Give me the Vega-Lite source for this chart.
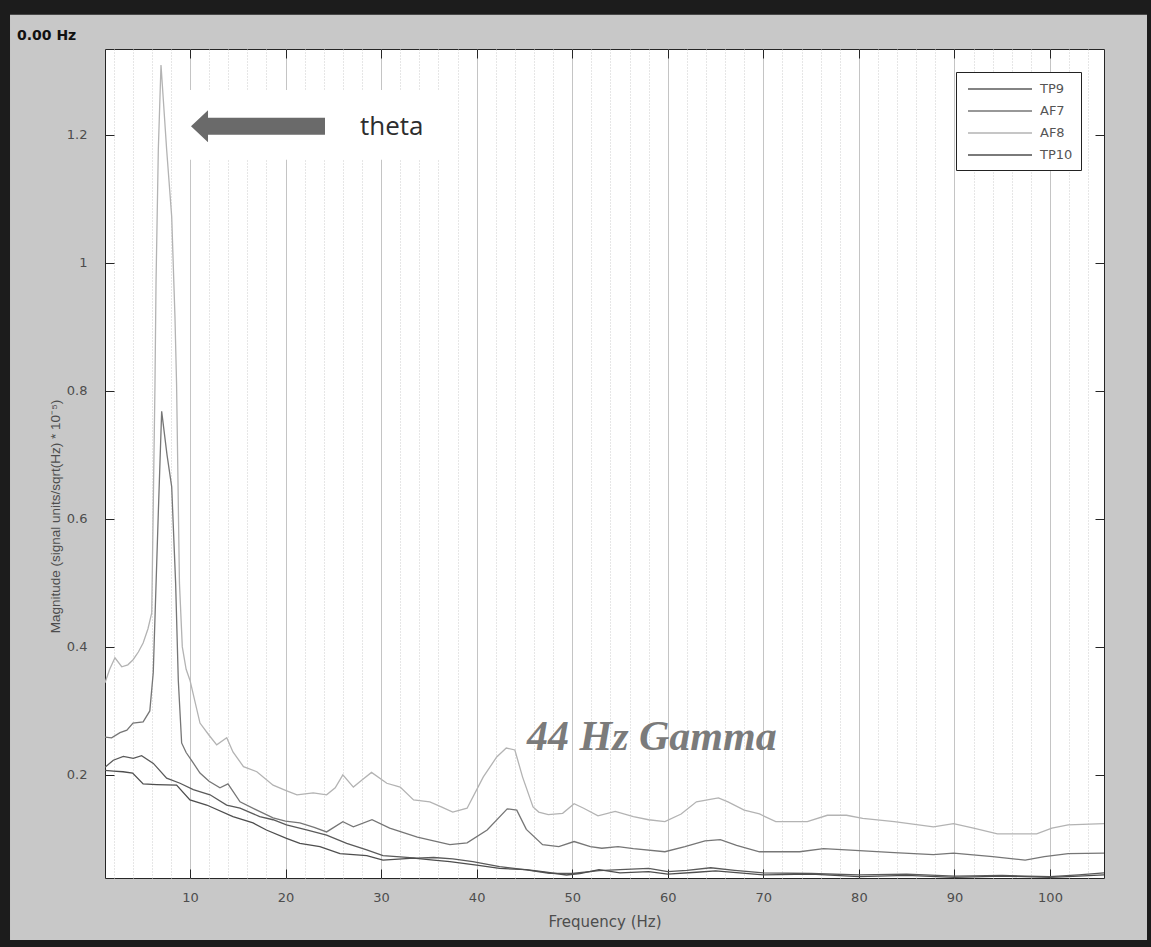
{
  "$schema": "https://vega.github.io/schema/vega-lite/v6.json",
  "width": 999,
  "height": 829,
  "autosize": {"type": "none"},
  "padding": {"left": 105, "top": 49, "right": 47, "bottom": 69},
  "background": "#c8c8c8",
  "config": {
    "view": {"fill": "white", "stroke": "#262626", "strokeWidth": 1},
    "legend": {"title": null, "symbolType": "M-4,0H4", "symbolSize": 256, "symbolOffset": 27, "symbolStrokeWidth": 1.3, "labelFont": "DejaVu Sans", "labelFontSize": 13, "labelColor": "#555555", "labelOffset": 31, "padding": 8, "rowPadding": 6, "fillColor": "white", "strokeColor": "#222222"}
  },
  "datasets": {
    "psd": [
      {"ch":"AF8","f":1.11,"v":0.344},{"ch":"AF8","f":1.6,"v":0.365},{"ch":"AF8","f":2.15,"v":0.383},{"ch":"AF8","f":2.86,"v":0.369},{"ch":"AF8","f":3.5,"v":0.372},{"ch":"AF8","f":4.05,"v":0.38},{"ch":"AF8","f":4.6,"v":0.392},{"ch":"AF8","f":5.1,"v":0.406},{"ch":"AF8","f":5.6,"v":0.428},{"ch":"AF8","f":6.0,"v":0.453},{"ch":"AF8","f":6.34,"v":0.81},{"ch":"AF8","f":6.45,"v":0.97},{"ch":"AF8","f":6.69,"v":1.177},{"ch":"AF8","f":6.97,"v":1.309},{"ch":"AF8","f":7.56,"v":1.177},{"ch":"AF8","f":8.09,"v":1.072},{"ch":"AF8","f":8.43,"v":0.916},{"ch":"AF8","f":8.6,"v":0.81},{"ch":"AF8","f":8.9,"v":0.5},{"ch":"AF8","f":9.2,"v":0.4},{"ch":"AF8","f":9.6,"v":0.365},{"ch":"AF8","f":10.0,"v":0.348},{"ch":"AF8","f":11.05,"v":0.281},{"ch":"AF8","f":12.0,"v":0.262},{"ch":"AF8","f":12.8,"v":0.247},{"ch":"AF8","f":13.85,"v":0.258},{"ch":"AF8","f":14.5,"v":0.236},{"ch":"AF8","f":15.6,"v":0.213},{"ch":"AF8","f":17.0,"v":0.205},{"ch":"AF8","f":18.7,"v":0.184},{"ch":"AF8","f":20.0,"v":0.176},{"ch":"AF8","f":21.2,"v":0.169},{"ch":"AF8","f":22.9,"v":0.172},{"ch":"AF8","f":24.3,"v":0.169},{"ch":"AF8","f":25.2,"v":0.18},{"ch":"AF8","f":26.0,"v":0.2},{"ch":"AF8","f":27.1,"v":0.181},{"ch":"AF8","f":28.0,"v":0.192},{"ch":"AF8","f":29.0,"v":0.204},{"ch":"AF8","f":30.6,"v":0.187},{"ch":"AF8","f":32.0,"v":0.181},{"ch":"AF8","f":33.4,"v":0.161},{"ch":"AF8","f":35.1,"v":0.158},{"ch":"AF8","f":36.3,"v":0.15},{"ch":"AF8","f":37.5,"v":0.142},{"ch":"AF8","f":39.0,"v":0.148},{"ch":"AF8","f":40.7,"v":0.197},{"ch":"AF8","f":42.1,"v":0.228},{"ch":"AF8","f":43.1,"v":0.242},{"ch":"AF8","f":44.0,"v":0.239},{"ch":"AF8","f":44.8,"v":0.197},{"ch":"AF8","f":45.9,"v":0.15},{"ch":"AF8","f":46.5,"v":0.142},{"ch":"AF8","f":47.5,"v":0.138},{"ch":"AF8","f":49.0,"v":0.14},{"ch":"AF8","f":50.2,"v":0.155},{"ch":"AF8","f":51.2,"v":0.148},{"ch":"AF8","f":52.7,"v":0.136},{"ch":"AF8","f":54.5,"v":0.143},{"ch":"AF8","f":56.4,"v":0.135},{"ch":"AF8","f":58.0,"v":0.13},{"ch":"AF8","f":59.7,"v":0.127},{"ch":"AF8","f":61.4,"v":0.139},{"ch":"AF8","f":63.0,"v":0.158},{"ch":"AF8","f":65.3,"v":0.164},{"ch":"AF8","f":66.3,"v":0.158},{"ch":"AF8","f":68.0,"v":0.145},{"ch":"AF8","f":69.6,"v":0.139},{"ch":"AF8","f":71.3,"v":0.127},{"ch":"AF8","f":74.6,"v":0.127},{"ch":"AF8","f":76.7,"v":0.137},{"ch":"AF8","f":78.7,"v":0.137},{"ch":"AF8","f":80.4,"v":0.132},{"ch":"AF8","f":83.7,"v":0.127},{"ch":"AF8","f":87.8,"v":0.119},{"ch":"AF8","f":89.9,"v":0.124},{"ch":"AF8","f":92.0,"v":0.117},{"ch":"AF8","f":94.5,"v":0.108},{"ch":"AF8","f":98.6,"v":0.108},{"ch":"AF8","f":100.2,"v":0.117},{"ch":"AF8","f":101.9,"v":0.122},{"ch":"AF8","f":105.65,"v":0.124},
      {"ch":"AF7","f":1.11,"v":0.259},{"ch":"AF7","f":1.8,"v":0.258},{"ch":"AF7","f":2.68,"v":0.266},{"ch":"AF7","f":3.4,"v":0.27},{"ch":"AF7","f":4.04,"v":0.281},{"ch":"AF7","f":5.1,"v":0.283},{"ch":"AF7","f":5.8,"v":0.3},{"ch":"AF7","f":6.16,"v":0.36},{"ch":"AF7","f":6.69,"v":0.61},{"ch":"AF7","f":7.04,"v":0.768},{"ch":"AF7","f":7.6,"v":0.7},{"ch":"AF7","f":8.09,"v":0.65},{"ch":"AF7","f":8.5,"v":0.5},{"ch":"AF7","f":8.78,"v":0.348},{"ch":"AF7","f":9.13,"v":0.25},{"ch":"AF7","f":9.6,"v":0.235},{"ch":"AF7","f":10.2,"v":0.222},{"ch":"AF7","f":11.05,"v":0.203},{"ch":"AF7","f":12.0,"v":0.19},{"ch":"AF7","f":13.14,"v":0.18},{"ch":"AF7","f":13.98,"v":0.186},{"ch":"AF7","f":15.24,"v":0.158},{"ch":"AF7","f":17.0,"v":0.145},{"ch":"AF7","f":18.7,"v":0.133},{"ch":"AF7","f":20.0,"v":0.128},{"ch":"AF7","f":21.5,"v":0.125},{"ch":"AF7","f":23.0,"v":0.118},{"ch":"AF7","f":24.3,"v":0.111},{"ch":"AF7","f":26.0,"v":0.127},{"ch":"AF7","f":27.1,"v":0.119},{"ch":"AF7","f":29.05,"v":0.13},{"ch":"AF7","f":30.9,"v":0.117},{"ch":"AF7","f":33.8,"v":0.103},{"ch":"AF7","f":35.5,"v":0.097},{"ch":"AF7","f":37.2,"v":0.091},{"ch":"AF7","f":39.0,"v":0.094},{"ch":"AF7","f":41.1,"v":0.114},{"ch":"AF7","f":43.2,"v":0.147},{"ch":"AF7","f":44.2,"v":0.145},{"ch":"AF7","f":45.2,"v":0.115},{"ch":"AF7","f":46.9,"v":0.091},{"ch":"AF7","f":48.6,"v":0.088},{"ch":"AF7","f":50.2,"v":0.096},{"ch":"AF7","f":51.9,"v":0.088},{"ch":"AF7","f":53.1,"v":0.0855},{"ch":"AF7","f":54.8,"v":0.088},{"ch":"AF7","f":56.4,"v":0.085},{"ch":"AF7","f":59.7,"v":0.08},{"ch":"AF7","f":61.8,"v":0.088},{"ch":"AF7","f":63.9,"v":0.097},{"ch":"AF7","f":65.5,"v":0.099},{"ch":"AF7","f":67.2,"v":0.09},{"ch":"AF7","f":69.6,"v":0.08},{"ch":"AF7","f":73.8,"v":0.08},{"ch":"AF7","f":76.3,"v":0.085},{"ch":"AF7","f":79.6,"v":0.082},{"ch":"AF7","f":83.7,"v":0.0786},{"ch":"AF7","f":87.8,"v":0.0755},{"ch":"AF7","f":89.9,"v":0.078},{"ch":"AF7","f":94.0,"v":0.0724},{"ch":"AF7","f":97.4,"v":0.067},{"ch":"AF7","f":99.4,"v":0.0724},{"ch":"AF7","f":101.9,"v":0.077},{"ch":"AF7","f":105.65,"v":0.078},
      {"ch":"TP9","f":1.11,"v":0.212},{"ch":"TP9","f":1.98,"v":0.223},{"ch":"TP9","f":3.03,"v":0.229},{"ch":"TP9","f":4.07,"v":0.226},{"ch":"TP9","f":4.94,"v":0.23},{"ch":"TP9","f":6.17,"v":0.218},{"ch":"TP9","f":7.56,"v":0.195},{"ch":"TP9","f":8.96,"v":0.187},{"ch":"TP9","f":10.35,"v":0.177},{"ch":"TP9","f":12.1,"v":0.169},{"ch":"TP9","f":13.84,"v":0.153},{"ch":"TP9","f":15.24,"v":0.148},{"ch":"TP9","f":17.3,"v":0.135},{"ch":"TP9","f":18.7,"v":0.13},{"ch":"TP9","f":20.1,"v":0.122},{"ch":"TP9","f":22.2,"v":0.114},{"ch":"TP9","f":24.3,"v":0.106},{"ch":"TP9","f":26.4,"v":0.093},{"ch":"TP9","f":28.5,"v":0.083},{"ch":"TP9","f":30.2,"v":0.074},{"ch":"TP9","f":32.0,"v":0.072},{"ch":"TP9","f":33.7,"v":0.07},{"ch":"TP9","f":35.5,"v":0.071},{"ch":"TP9","f":37.5,"v":0.069},{"ch":"TP9","f":39.6,"v":0.0646},{"ch":"TP9","f":42.4,"v":0.0568},{"ch":"TP9","f":45.2,"v":0.0516},{"ch":"TP9","f":47.6,"v":0.0464},{"ch":"TP9","f":50.0,"v":0.046},{"ch":"TP9","f":52.8,"v":0.0505},{"ch":"TP9","f":55.0,"v":0.052},{"ch":"TP9","f":58.0,"v":0.054},{"ch":"TP9","f":60.0,"v":0.049},{"ch":"TP9","f":62.0,"v":0.051},{"ch":"TP9","f":64.5,"v":0.055},{"ch":"TP9","f":67.0,"v":0.051},{"ch":"TP9","f":70.0,"v":0.047},{"ch":"TP9","f":75.0,"v":0.046},{"ch":"TP9","f":80.0,"v":0.044},{"ch":"TP9","f":85.0,"v":0.045},{"ch":"TP9","f":90.0,"v":0.042},{"ch":"TP9","f":95.0,"v":0.043},{"ch":"TP9","f":100.0,"v":0.041},{"ch":"TP9","f":103.0,"v":0.044},{"ch":"TP9","f":105.65,"v":0.047},
      {"ch":"TP10","f":1.11,"v":0.207},{"ch":"TP10","f":2.0,"v":0.206},{"ch":"TP10","f":3.0,"v":0.205},{"ch":"TP10","f":4.0,"v":0.203},{"ch":"TP10","f":5.1,"v":0.186},{"ch":"TP10","f":6.5,"v":0.185},{"ch":"TP10","f":8.6,"v":0.184},{"ch":"TP10","f":10.0,"v":0.161},{"ch":"TP10","f":11.75,"v":0.153},{"ch":"TP10","f":14.5,"v":0.135},{"ch":"TP10","f":16.6,"v":0.125},{"ch":"TP10","f":18.0,"v":0.114},{"ch":"TP10","f":20.1,"v":0.101},{"ch":"TP10","f":21.5,"v":0.093},{"ch":"TP10","f":23.6,"v":0.088},{"ch":"TP10","f":25.7,"v":0.077},{"ch":"TP10","f":28.5,"v":0.074},{"ch":"TP10","f":30.2,"v":0.067},{"ch":"TP10","f":33.4,"v":0.07},{"ch":"TP10","f":35.5,"v":0.067},{"ch":"TP10","f":37.2,"v":0.0645},{"ch":"TP10","f":40.0,"v":0.059},{"ch":"TP10","f":42.4,"v":0.054},{"ch":"TP10","f":45.2,"v":0.052},{"ch":"TP10","f":47.3,"v":0.048},{"ch":"TP10","f":49.4,"v":0.0437},{"ch":"TP10","f":50.8,"v":0.046},{"ch":"TP10","f":52.8,"v":0.052},{"ch":"TP10","f":55.0,"v":0.047},{"ch":"TP10","f":58.0,"v":0.049},{"ch":"TP10","f":60.0,"v":0.045},{"ch":"TP10","f":63.0,"v":0.048},{"ch":"TP10","f":65.0,"v":0.05},{"ch":"TP10","f":70.0,"v":0.044},{"ch":"TP10","f":75.0,"v":0.045},{"ch":"TP10","f":80.0,"v":0.041},{"ch":"TP10","f":85.0,"v":0.043},{"ch":"TP10","f":90.0,"v":0.04},{"ch":"TP10","f":95.0,"v":0.042},{"ch":"TP10","f":100.0,"v":0.04},{"ch":"TP10","f":103.0,"v":0.042},{"ch":"TP10","f":105.65,"v":0.044}
    ]
  },
  "resolve": {"axis": {"x": "independent", "y": "independent"}},
  "layer": [
    {
      "data": {"values": [{}]},
      "mark": {"type": "rect", "color": "white", "clip": false},
      "encoding": {
        "x": {"datum": 9.0, "type": "quantitative", "scale": {"domain": [1.11, 105.65], "nice": false, "zero": false}, "axis": null},
        "x2": {"datum": 36.2},
        "y": {"datum": 1.161, "type": "quantitative", "scale": {"domain": [0.039, 1.334], "nice": false, "zero": false}, "axis": null},
        "y2": {"datum": 1.27}
      }
    },
    {
      "data": {"name": "psd"},
      "mark": {"type": "line", "strokeWidth": 1.3, "clip": true},
      "encoding": {
        "x": {"field": "f", "type": "quantitative", "scale": {"domain": [1.11, 105.65], "nice": false, "zero": false},
          "axis": {"orient": "bottom", "values": [2,4,6,8,10,12,14,16,18,20,22,24,26,28,30,32,34,36,38,40,42,44,46,48,50,52,54,56,58,60,62,64,66,68,70,72,74,76,78,80,82,84,86,88,90,92,94,96,98,100,102,104],
            "labelExpr": "datum.value % 10 === 0 ? datum.label : ''", "labelOverlap": false, "labelFlush": false,
            "grid": true,
            "gridColor": {"condition": {"test": "datum.value % 10 === 0", "value": "#c4c4c4"}, "value": "#cdcdcd"},
            "gridDash": {"condition": {"test": "datum.value % 10 === 0", "value": []}, "value": [1, 2]},
            "tickOpacity": {"condition": {"test": "datum.value % 10 === 0", "value": 1}, "value": 0},
            "tickSize": -9, "tickColor": "#262626", "domain": false,
            "labelFont": "DejaVu Sans", "labelFontSize": 13, "labelColor": "#4d4d4d", "labelPadding": 22,
            "title": "Frequency (Hz)", "titleFont": "DejaVu Sans", "titleFontSize": 15, "titleFontWeight": "normal", "titleColor": "#4d4d4d", "titlePadding": 10}},
        "y": {"field": "v", "type": "quantitative", "scale": {"domain": [0.039, 1.334], "nice": false, "zero": false},
          "axis": {"orient": "left", "values": [0.2, 0.4, 0.6, 0.8, 1, 1.2], "format": "~g", "grid": false, "domain": false,
            "tickSize": -9, "tickColor": "#262626",
            "labelFont": "DejaVu Sans", "labelFontSize": 13, "labelColor": "#4d4d4d", "labelPadding": 27,
            "title": "Magnitude   (signal units/sqrt(Hz) * 10⁻⁵)", "titleFont": "Liberation Sans", "titleFontSize": 13.5, "titleFontWeight": "normal", "titleColor": "#4d4d4d",
            "titleX": -50, "titleY": 467, "titleAngle": 270, "titleAlign": "center", "titleBaseline": "middle"}},
        "color": {"field": "ch", "type": "nominal",
          "scale": {"domain": ["TP9", "AF7", "AF8", "TP10"], "range": ["#5a5a5a", "#767676", "#b3b3b3", "#4e4e4e"]},
          "legend": {"orient": "none", "legendX": 851, "legendY": 23}}
      }
    },
    {
      "data": {"name": "psd"},
      "mark": {"type": "point", "opacity": 0, "size": 1},
      "encoding": {
        "x": {"field": "f", "type": "quantitative", "scale": {"domain": [1.11, 105.65], "nice": false, "zero": false},
          "axis": {"orient": "top", "values": [10,20,30,40,50,60,70,80,90,100], "labels": false, "grid": false, "domain": false, "tickSize": -9, "tickColor": "#262626", "title": null}},
        "y": {"field": "v", "type": "quantitative", "scale": {"domain": [0.039, 1.334], "nice": false, "zero": false},
          "axis": {"orient": "right", "values": [0.2, 0.4, 0.6, 0.8, 1, 1.2], "labels": false, "grid": false, "domain": false, "tickSize": -9, "tickColor": "#262626", "title": null}}
      }
    },
    {
      "data": {"values": [{}]},
      "mark": {"type": "point", "shape": "M-1,0L-0.746,-0.239L-0.746,-0.127L1,-0.127L1,0.127L-0.746,0.127L-0.746,0.239Z", "size": 17956, "filled": true, "color": "#6a6a6a", "opacity": 1, "strokeWidth": 0, "clip": false},
      "encoding": {
        "x": {"datum": 17.12, "type": "quantitative", "scale": {"domain": [1.11, 105.65], "nice": false, "zero": false}, "axis": null},
        "y": {"datum": 1.2133, "type": "quantitative", "scale": {"domain": [0.039, 1.334], "nice": false, "zero": false}, "axis": null}
      }
    },
    {
      "data": {"values": [{}]},
      "mark": {"type": "text", "text": "theta", "font": "Open Sans", "fontSize": 26, "color": "#2d2d2d", "align": "left", "baseline": "middle", "clip": false},
      "encoding": {
        "x": {"datum": 27.79, "type": "quantitative", "scale": {"domain": [1.11, 105.65], "nice": false, "zero": false}, "axis": null},
        "y": {"datum": 1.2125, "type": "quantitative", "scale": {"domain": [0.039, 1.334], "nice": false, "zero": false}, "axis": null}
      }
    },
    {
      "data": {"values": [{}]},
      "mark": {"type": "text", "text": "44 Hz Gamma", "font": "Liberation Serif", "fontSize": 42, "fontStyle": "italic", "fontWeight": "bold", "color": "#7b7b7b", "align": "left", "baseline": "alphabetic", "clip": false},
      "encoding": {
        "x": {"datum": 45.27, "type": "quantitative", "scale": {"domain": [1.11, 105.65], "nice": false, "zero": false}, "axis": null},
        "y": {"datum": 0.239, "type": "quantitative", "scale": {"domain": [0.039, 1.334], "nice": false, "zero": false}, "axis": null}
      }
    },
    {
      "data": {"values": [{}]},
      "mark": {"type": "rect", "filled": false, "color": "#1c1c1c", "strokeWidth": 30, "clip": false},
      "encoding": {
        "x": {"datum": -10.4, "type": "quantitative", "scale": {"domain": [1.11, 105.65], "nice": false, "zero": false}, "axis": null},
        "x2": {"datum": 111.72},
        "y": {"datum": 1.4109, "type": "quantitative", "scale": {"domain": [0.039, 1.334], "nice": false, "zero": false}, "axis": null},
        "y2": {"datum": -0.08125}
      }
    },
    {
      "data": {"values": [{}]},
      "mark": {"type": "text", "text": "0.00 Hz", "font": "DejaVu Sans", "fontSize": 14, "fontWeight": "bold", "color": "#111111", "align": "left", "baseline": "alphabetic", "clip": false},
      "encoding": {
        "x": {"datum": -8.1, "type": "quantitative", "scale": {"domain": [1.11, 105.65], "nice": false, "zero": false}, "axis": null},
        "y": {"datum": 1.3484, "type": "quantitative", "scale": {"domain": [0.039, 1.334], "nice": false, "zero": false}, "axis": null}
      }
    }
  ]
}
